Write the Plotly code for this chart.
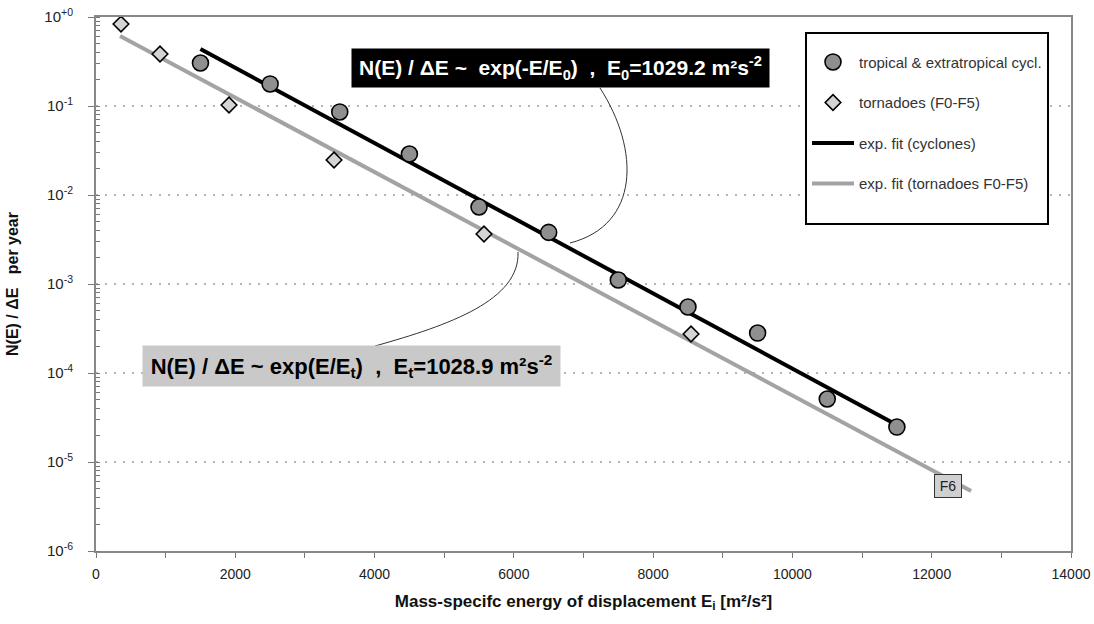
import math
import plotly.graph_objects as go

# ---- data ----
cyc_E = [1500, 2500, 3500, 4500, 5500, 6500, 7500, 8500, 9500, 10500, 11500]
cyc_N = [0.304, 0.177, 0.0857, 0.0289, 0.00733, 0.0038, 0.00111, 0.000552, 0.000281, 5.1e-5, 2.47e-5]

tor_E = [359, 919, 1910, 3418, 5571, 8544]
tor_N = [0.834, 0.384, 0.1026, 0.0247, 0.00365, 0.000274]

fit_cyc_E = [1500, 11500]
fit_cyc_N = [0.437, 2.6e-5]

fit_tor_E = [345, 12565]
fit_tor_N = [0.612, 4.72e-6]

f6_E = 12234
f6_N = 5.37e-6

y_tickvals = [1, 0.1, 0.01, 0.001, 1e-4, 1e-5, 1e-6]
y_ticktext = ["10<sup>+0</sup>", "10<sup>-1</sup>", "10<sup>-2</sup>", "10<sup>-3</sup>",
              "10<sup>-4</sup>", "10<sup>-5</sup>", "10<sup>-6</sup>"]
x_tickvals = [0, 2000, 4000, 6000, 8000, 10000, 12000, 14000]
x_ticktext = ["0", "2000", "4000", "6000", "8000", "10000", "12000", "14000"]

FONT = "Arial, Liberation Sans, sans-serif"

fig = go.Figure()

fig.add_trace(go.Scatter(
    x=fit_cyc_E, y=fit_cyc_N, mode="lines", name="exp. fit (cyclones)",
    line=dict(color="black", width=4), legendrank=3, legendgroup="c"))
fig.add_trace(go.Scatter(
    x=fit_tor_E, y=fit_tor_N, mode="lines", name="exp. fit (tornadoes F0-F5)",
    line=dict(color="#a3a3a3", width=4), legendrank=4, legendgroup="d"))
fig.add_trace(go.Scatter(
    x=cyc_E, y=cyc_N, mode="markers", name="tropical &amp; extratropical cycl.",
    marker=dict(symbol="circle", size=16, color="#8f8f8f", line=dict(color="black", width=1.6)),
    legendrank=1, legendgroup="a"))
fig.add_trace(go.Scatter(
    x=tor_E, y=tor_N, mode="markers", name="tornadoes (F0-F5)",
    marker=dict(symbol="diamond", size=12, color="#d4d4d4", line=dict(color="black", width=1.6)),
    legendrank=2, legendgroup="b"))
# empty legend row: only adds the blank space at the bottom of the legend box
fig.add_trace(go.Scatter(
    x=[None], y=[None], mode="lines", name=" ", line=dict(color="rgba(0,0,0,0)", width=0),
    legendrank=5, legendgroup="d", hoverinfo="skip"))

# F6 label (annotation y on a log axis is given in log10 units)
fig.add_annotation(x=f6_E, y=math.log10(f6_N), xref="x", yref="y", text="F6", showarrow=False,
                   font=dict(family=FONT, size=14, color="#222"),
                   bgcolor="#d0d0d0", bordercolor="#333", borderwidth=1,
                   width=24, height=20)

# figure size (body margin removed in the page) and plot-area geometry in pixels
W, H = 1094, 624
L, R, T, B = 96, 1071, 17, 551


def px(x):
    return (x - L) / (R - L)


def py(y):
    return (B - y) / (B - T)


# fit formula boxes
fig.add_annotation(
    x=px(560), y=py(68), xref="paper", yref="paper", showarrow=False,
    xanchor="center", yanchor="middle",
    text="N(E) / ΔE ~  exp(-E/E<sub>0</sub>)  ,  E<sub>0</sub>=1029.2 m²s<sup>-2</sup>",
    font=dict(family=FONT, size=21, color="white", weight="bold"),
    bgcolor="black", width=411, height=32, borderpad=3)
fig.add_annotation(
    x=px(351), y=py(366), xref="paper", yref="paper", showarrow=False,
    xanchor="center", yanchor="middle",
    text="N(E) / ΔE ~ exp(E/E<sub>t</sub>)  ,  E<sub>t</sub>=1028.9 m²s<sup>-2</sup>",
    font=dict(family=FONT, size=22, color="black", weight="bold"),
    bgcolor="#c9c9c9", width=411, height=34, borderpad=3)


def path(pts):
    (x0, y0), (x1, y1), (x2, y2), (x3, y3) = pts
    return (f"M {px(x0)},{py(y0)} C {px(x1)},{py(y1)} {px(x2)},{py(y2)} {px(x3)},{py(y3)}")


fig.add_shape(type="path", xref="paper", yref="paper",
              path=path([(600, 88), (640, 150), (640, 225), (570, 243)]),
              line=dict(color="#333", width=1))
fig.add_shape(type="path", xref="paper", yref="paper",
              path=path([(375, 346), (450, 325), (520, 300), (518, 252)]),
              line=dict(color="#333", width=1))

fig.update_layout(
    width=W, height=H,
    margin=dict(l=L, r=W - R, t=T, b=H - B, pad=0, autoexpand=False),
    plot_bgcolor="white", paper_bgcolor="white",
    font=dict(family=FONT, color="#222"),
    showlegend=True,
    legend=dict(x=px(805), y=py(32), xanchor="left", yanchor="top",
                bgcolor="white", bordercolor="black", borderwidth=2,
                font=dict(family=FONT, size=15, color="#333"),
                title=dict(text=" ", font=dict(size=9)),
                traceorder="grouped", tracegroupgap=18,
                itemwidth=42),
    xaxis=dict(range=[0, 14000], tickvals=x_tickvals, ticktext=x_ticktext,
               ticks="outside", ticklen=5, automargin=False,
               tickcolor="#777", linecolor="#888", linewidth=2, mirror=True,
               showgrid=False, zeroline=False, ticklabelstandoff=4,
               ticklabeloverflow="allow",
               tickfont=dict(family=FONT, size=14, color="#222"),
               minor=dict(dtick=1000, ticks="outside", ticklen=5, tickcolor="#777", showgrid=False),
               title=dict(text="Mass-specifc energy of displacement E<sub>i</sub> [m²/s²]",
                          font=dict(family=FONT, size=17, color="#111", weight="bold"),
                          standoff=14)),
    yaxis=dict(type="log", range=[-6, 0], tickvals=y_tickvals, ticktext=y_ticktext,
               ticks="outside", ticklen=6, tickcolor="#777", automargin=False,
               linecolor="#888", linewidth=2, mirror=True,
               showgrid=True, gridcolor="#b5b5b5", griddash="2px,7px", gridwidth=1.5,
               zeroline=False, ticklabelstandoff=12,
               ticklabeloverflow="allow",
               tickfont=dict(family=FONT, size=15, color="#222"),
               minor=dict(dtick="D1", ticks="inside", ticklen=4, tickcolor="#777", showgrid=False),
               title=dict(text="N(E) / ΔE   per year",
                          font=dict(family=FONT, size=16, color="#111", weight="bold"),
                          standoff=22)),
)

fig.write_html("out.html",
               config={"displayModeBar": False},
               post_script="document.body.style.margin='0';document.body.style.overflow='hidden';")
